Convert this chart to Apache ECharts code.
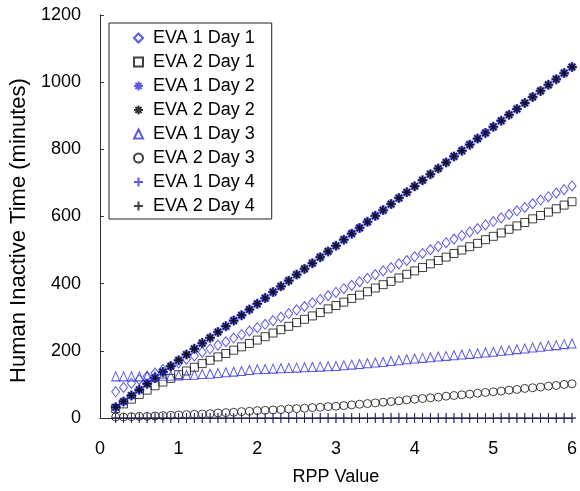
<!DOCTYPE html>
<html>
<head>
<meta charset="utf-8">
<script src="https://cdn.jsdelivr.net/npm/echarts@6/dist/echarts.min.js"></script>
<style>html,body{margin:0;padding:0;background:#fff;}#c{width:580px;height:491px;}</style>
</head>
<body>
<div id="c"></div>
<script>
var rppValues = [0.2,0.3,0.4,0.5,0.6,0.7,0.8,0.9,1.0,1.1,1.2,1.3,1.4,1.5,1.6,1.7,1.8,1.9,2.0,2.1,2.2,2.3,2.4,2.5,2.6,2.7,2.8,2.9,3.0,3.1,3.2,3.3,3.4,3.5,3.6,3.7,3.8,3.9,4.0,4.1,4.2,4.3,4.4,4.5,4.6,4.7,4.8,4.9,5.0,5.1,5.2,5.3,5.4,5.5,5.6,5.7,5.8,5.9,6.0];
var seriesNames = ['EVA 1 Day 1','EVA 2 Day 1','EVA 1 Day 2','EVA 2 Day 2','EVA 1 Day 3','EVA 2 Day 3','EVA 1 Day 4','EVA 2 Day 4'];
var eva1Day1 = [78,91,103,114,124,134,144,154,164,175,185,196,206,217,227,238,248,259,269,279,290,300,311,322,332,343,353,364,374,385,395,406,416,427,438,448,459,469,480,490,501,511,522,533,543,554,564,575,585,596,606,617,627,638,649,659,670,680,691];
var eva2Day1 = [28,42,56,70,83,96,107,118,129,140,151,162,172,182,192,202,212,222,232,242,253,263,273,284,294,304,314,325,335,345,356,366,376,387,397,407,417,428,438,448,459,469,479,490,500,510,520,531,541,551,562,572,582,593,603,613,623,634,644];
var eva1Day2 = [32,49,67,84,102,119,137,154,172,189,206,223,239,256,273,290,306,323,340,357,375,392,409,427,444,461,479,496,513,531,549,566,584,602,619,637,655,672,690,708,726,743,761,779,796,814,832,849,867,885,903,920,938,956,974,992,1009,1027,1045];
var eva2Day2 = [32,49,67,84,102,119,137,154,172,189,206,223,239,256,273,290,306,323,340,357,375,392,409,427,444,461,479,496,513,531,549,566,584,602,619,637,655,672,690,708,726,743,761,779,796,814,832,849,867,885,903,920,938,956,974,992,1009,1027,1045];
var eva1Day3 = [124,124,124,124,125,125,126,126,127,128,129,131,132,134,136,138,140,143,145,146,147,148,149,150,151,152,153,154,155,157,159,161,163,165,167,170,172,175,177,179,181,183,185,187,189,191,193,195,197,200,202,205,207,210,212,215,217,220,222];
var eva2Day3 = [3,3,4,5,5,6,7,8,9,10,11,12,13,15,16,17,19,20,22,23,24,25,27,28,29,31,32,34,35,37,39,41,43,45,47,49,51,54,56,58,60,62,65,67,69,71,74,76,78,80,83,85,88,90,92,95,97,100,102];
var eva1Day4 = [0,0,0,0,0,0,0,0,0,0,0,0,0,0,0,0,0,0,0,0,0,0,0,0,0,0,0,0,0,0,0,0,0,0,0,0,0,0,0,0,0,0,0,0,0,0,0,0,0,0,0,0,0,0,0,0,0,0,0];
var eva2Day4 = [0,0,0,0,0,0,0,0,0,0,0,0,0,0,0,0,0,0,0,0,0,0,0,0,0,0,0,0,0,0,0,0,0,0,0,0,0,0,0,0,0,0,0,0,0,0,0,0,0,0,0,0,0,0,0,0,0,0,0];
var xTicks = [0,1,2,3,4,5,6];
var yTicks = [0,200,400,600,800,1000,1200];

function pairs(vals){ return rppValues.map(function(x,i){ return [x, vals[i]]; }); }

var BLUE = '#3030e0';
var STAR = 'path://M5,0V10M0,5H10M1.6,1.6L8.4,8.4M8.4,1.6L1.6,8.4';
var PLUS = 'path://M5,0V10M0,5H10';
var FONT = 'Liberation Sans, Arial, sans-serif';

var specs = [
  {data: eva1Day1, symbol:'diamond', size:[8,10], style:{color:'rgba(0,0,0,0)', borderColor:BLUE, borderWidth:1}},
  {data: eva2Day1, symbol:'rect', size:8, style:{color:'rgba(0,0,0,0)', borderColor:'#111', borderWidth:1}},
  {data: eva1Day2, symbol:STAR, size:10, style:{color:BLUE, borderColor:BLUE, borderWidth:2.6}},
  {data: eva2Day2, symbol:STAR, size:9, style:{color:'#000', borderColor:'#000', borderWidth:1.4}},
  {data: eva1Day3, symbol:'triangle', size:[8,9], style:{color:'rgba(0,0,0,0)', borderColor:BLUE, borderWidth:1}},
  {data: eva2Day3, symbol:'circle', size:8, style:{color:'rgba(0,0,0,0)', borderColor:'#111', borderWidth:1}},
  {data: eva1Day4, symbol:PLUS, size:[8,10], style:{color:BLUE, borderColor:BLUE, borderWidth:1}},
  {data: eva2Day4, symbol:PLUS, size:[8,10], style:{color:'#111', borderColor:'#111', borderWidth:1}}
];

var series = specs.map(function(s, i){
  return {
    name: seriesNames[i], type:'scatter', data: pairs(s.data),
    symbol: s.symbol, symbolSize: s.size, symbolKeepAspect:false,
    itemStyle: s.style, clip:false, silent:true
  };
});

var chart = echarts.init(document.getElementById('c'), null, {renderer:'canvas'});
chart.setOption({
  animation:false,
  backgroundColor:'#fff',
  textStyle:{fontFamily:FONT},
  grid:{left:99, right:5, top:15, bottom:67, containLabel:false},
  legend:{
    orient:'vertical', left:109, top:23,
    data: seriesNames,
    itemWidth:9, itemHeight:9, itemGap:6,
    padding:[6,17,4,24],
    borderColor:'#222', borderWidth:1, backgroundColor:'#fff',
    textStyle:{fontSize:18, color:'#000', fontFamily:FONT, lineHeight:18, padding:[0,0,0,5]},
    selectedMode:false
  },
  xAxis:{
    type:'value', min:xTicks[0], max:xTicks[xTicks.length-1], interval:1,
    name:'RPP Value', nameLocation:'middle', nameGap:50,
    nameTextStyle:{fontSize:18, color:'#000', fontFamily:FONT},
    axisLine:{lineStyle:{color:'#333', width:1}},
    axisTick:{show:false},
    axisLabel:{fontSize:18, color:'#000', margin:22, fontFamily:FONT},
    splitLine:{show:false}
  },
  yAxis:{
    type:'value', min:yTicks[0], max:yTicks[yTicks.length-1], interval:200,
    name:'Human Inactive Time (minutes)', nameLocation:'middle', nameGap:66,
    nameTextStyle:{fontSize:22, color:'#000', fontFamily:FONT, padding:[0,28,0,0]},
    axisLine:{show:true, lineStyle:{color:'#333', width:1}},
    axisTick:{show:true, inside:true, length:4, lineStyle:{color:'#333'}},
    axisLabel:{fontSize:18, color:'#000', margin:19, fontFamily:FONT, formatter:function(v){ return String(v); }},
    splitLine:{show:false}
  },
  series: series
});
</script>
</body>
</html>
